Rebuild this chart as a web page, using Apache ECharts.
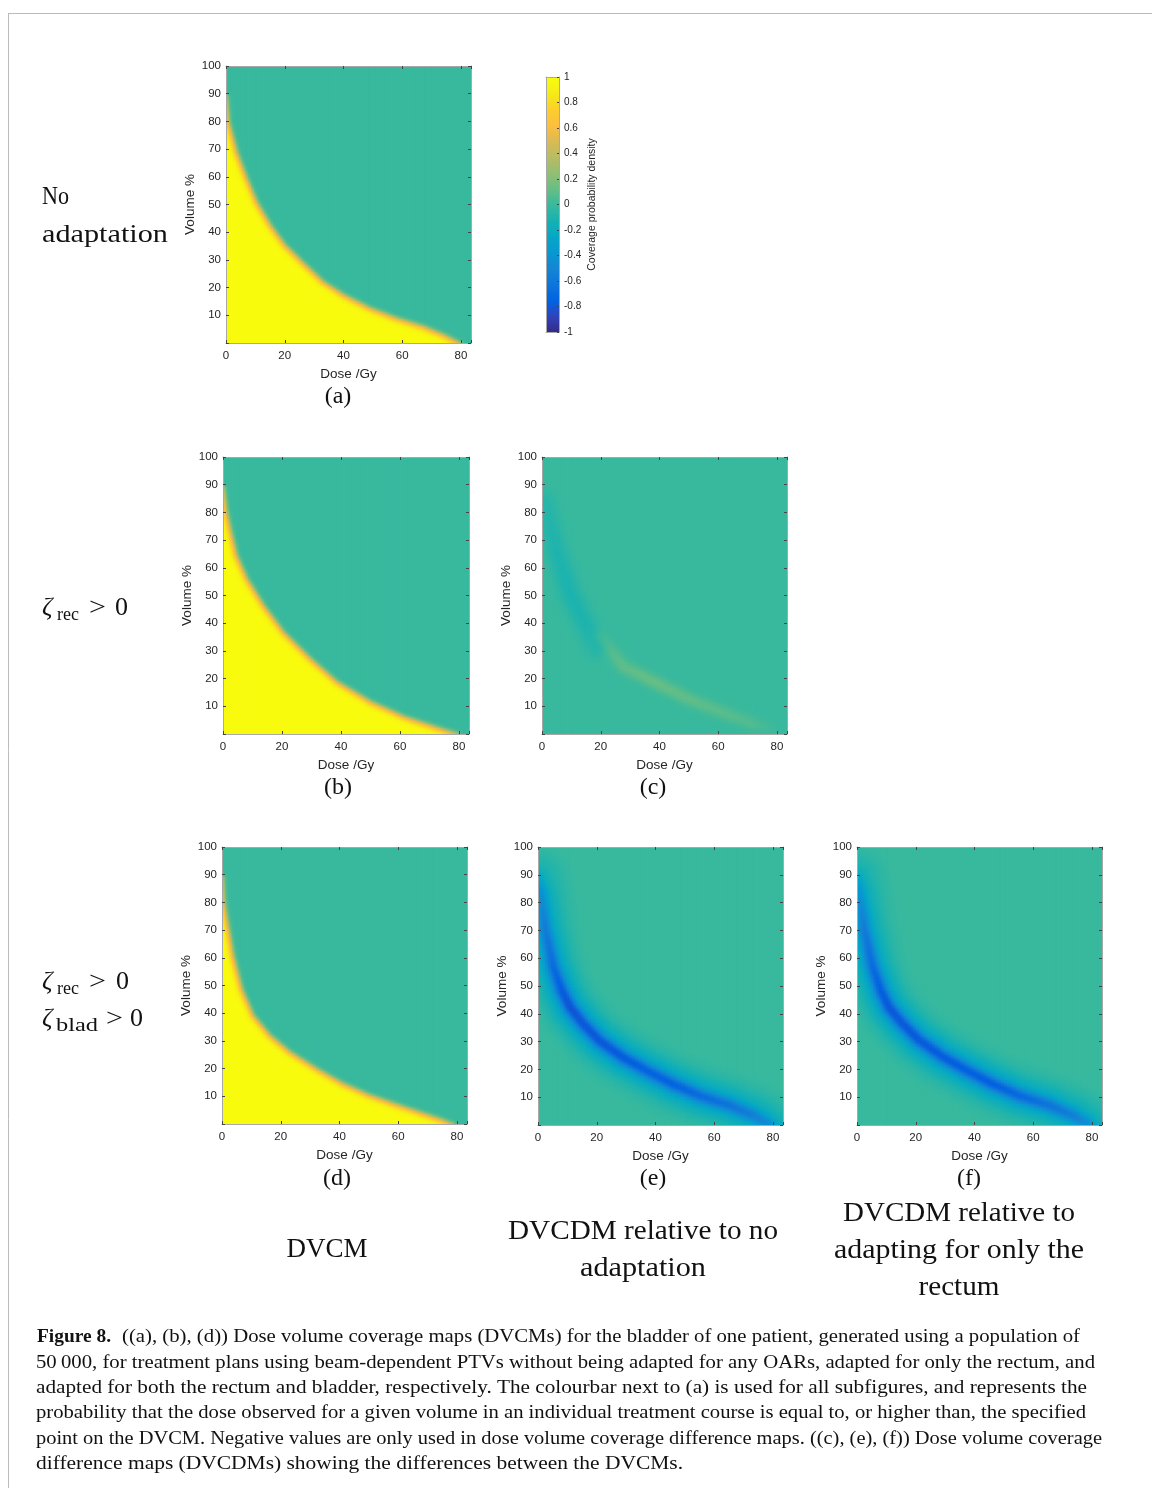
<!DOCTYPE html>
<html><head><meta charset="utf-8">
<script src="https://cdn.jsdelivr.net/npm/echarts@6.0.0/dist/echarts.min.js"></script>
<style>html,body{margin:0;padding:0;background:#fff}#c{width:1152px;height:1488px}</style>
</head><body><div id="c"></div>
<script>
// ================= DATA =================
const doseTicks = [0, 20, 40, 60, 80];
const volumeTicks = [10, 20, 30, 40, 50, 60, 70, 80, 90, 100];
const colorbarTicks = [-1, -0.8, -0.6, -0.4, -0.2, 0, 0.2, 0.4, 0.6, 0.8, 1];
const DOSE_MAX = 83.4;
const VOL_MAX = 100;

// DVCM 50%-coverage curves (dose Gy -> volume %)
const noAdaptDose = [0, 0.8, 3.6, 7, 10.4, 15, 20, 26.3, 33, 40, 49, 58, 67, 74, 79.7];
const noAdaptVol  = [89, 80, 69, 59.5, 51, 42.7, 35.5, 29, 22.3, 17.5, 12.7, 9.1, 6.1, 3.1, 0];
const rectumDose  = [0, 1.1, 2.3, 4.5, 8, 13.6, 20.4, 29.5, 38.6, 50, 61.3, 71.5, 79.5];
const rectumVol   = [89, 80.4, 74.4, 64.7, 56.3, 46.7, 37, 27.4, 19, 11.8, 6.4, 2.8, 0];
const bothDose    = [0, 0.6, 1.5, 3.7, 6.6, 10.5, 16.2, 23, 32, 41, 50, 61.5, 68.3, 75, 78.5];
const bothVol     = [89, 80, 74.4, 61, 49, 39.5, 32.2, 26.2, 20.2, 14.8, 10.6, 6.4, 4, 1.6, 0];
// spread of the coverage transition (screen px) below / above the curve
const dvcmSpreadBelow = 3.6;
const dvcmSpreadAbove = 2.6;

// (e) DVCDM relative to no adaptation: negative ridge
const diffNoAdaptDose = [0, 0.8, 2.5, 5.3, 8.2, 11, 15.5, 21, 29, 37, 46, 55, 65.5, 73.4, 78.5, 80];
const diffNoAdaptVol  = [89, 84.4, 71, 57, 48.6, 42.6, 36.6, 30.6, 24.6, 19.9, 15, 10.9, 7.3, 3.7, 0.7, 0];
const diffNoAdaptPeak = [-0.2, -0.35, -0.5, -0.62, -0.72, -0.76, -0.74, -0.74, -0.72, -0.68, -0.68, -0.62, -0.56, -0.48, -0.38, -0.28];
const diffNoAdaptHalo = -0.06;
// (f) DVCDM relative to adapting for the rectum only
const diffRectumDose = [0, 0.8, 2.5, 5.3, 8.2, 11, 15.5, 21, 29, 37, 46, 55, 65.5, 73.4, 78.5, 80];
const diffRectumVol  = [89, 84, 71, 57.5, 48.5, 42.5, 36.8, 31, 25, 20.2, 15.2, 11, 7.4, 3.8, 0.8, 0];
const diffRectumPeak = [-0.2, -0.33, -0.5, -0.62, -0.7, -0.74, -0.73, -0.73, -0.72, -0.7, -0.7, -0.64, -0.56, -0.48, -0.38, -0.28];
const diffRectumHalo = -0.06;
// (c) DVCDM rectum-adapted vs no adaptation: weak negative and positive ridges
const diffRecNegDose = [1.1, 5, 9.6, 15.3, 18.7];
const diffRecNegVol  = [84, 66.5, 51, 39, 31.8];
const diffRecNegPeak = [-0.06, -0.09, -0.1, -0.09, -0.07];
const diffRecPosDose = [20, 27.8, 39, 50.5, 62, 71, 76.6];
const diffRecPosVol  = [35.4, 24.6, 18.7, 12.7, 7.9, 4.3, 2.5];
const diffRecPosPeak = [0.05, 0.11, 0.13, 0.11, 0.09, 0.07, 0.03];

// parula colour map (17 samples)
const parula = ['#352a87', '#3243ba', '#0363e1', '#0d75dc', '#1485d4', '#0998d1', '#06a7c6', '#15b1b4', '#38b99e',
                '#65be86', '#92bf73', '#b7bd64', '#d9ba56', '#fdbe3d', '#fcce2e', '#f5eb18', '#f9fb0e'];

// ================= LAYOUT =================
const panels = [
  {left: 226, top: 66,  width: 245, height: 277},
  {left: 223, top: 457, width: 246, height: 277},
  {left: 542, top: 457, width: 245, height: 277},
  {left: 222, top: 847, width: 245, height: 277},
  {left: 538, top: 847, width: 245, height: 278},
  {left: 857, top: 847, width: 245, height: 278}
];
const cbar = {left: 546, top: 77, width: 13, height: 255};

// ================= FIELD CONSTRUCTION =================
const PX_X = 245 / DOSE_MAX, PX_Y = 277 / VOL_MAX;
function toPx(ds, vs) { return ds.map((d, i) => [d * PX_X, vs[i] * PX_Y]); }
function nearest(pts, px, py) {
  let best = Infinity, bt = 0;
  for (let i = 0; i < pts.length - 1; i++) {
    const ax = pts[i][0], ay = pts[i][1], bx = pts[i + 1][0], by = pts[i + 1][1];
    const dx = bx - ax, dy = by - ay, L = dx * dx + dy * dy;
    let u = L ? ((px - ax) * dx + (py - ay) * dy) / L : 0;
    u = Math.max(0, Math.min(1, u));
    const qx = ax + u * dx - px, qy = ay + u * dy - py, d2 = qx * qx + qy * qy;
    if (d2 < best) { best = d2; bt = i + u; }
  }
  return {dist: Math.sqrt(best), t: bt};
}
function atT(arr, t) { const i = Math.min(Math.floor(t), arr.length - 2); const f = t - i; return arr[i] * (1 - f) + arr[i + 1] * f; }
function curveAt(ds, vs, d) {
  if (d <= ds[0]) return vs[0];
  if (d >= ds[ds.length - 1]) return vs[vs.length - 1];
  for (let i = 0; i < ds.length - 1; i++) if (d <= ds[i + 1]) { const f = (d - ds[i]) / (ds[i + 1] - ds[i]); return vs[i] * (1 - f) + vs[i + 1] * f; }
  return 0;
}
function erf(x) { const s = Math.sign(x); x = Math.abs(x); const t = 1 / (1 + 0.3275911 * x);
  const y = 1 - (((((1.061405429 * t - 1.453152027) * t) + 1.421413741) * t - 0.284496736) * t + 0.254829592) * t * Math.exp(-x * x); return s * y; }
function Phi(z) { return 0.5 * (1 + erf(z / Math.SQRT2)); }

function dvcmField(ds, vs) {
  const pts = toPx(ds, vs);
  return (d, v) => {
    const n = nearest(pts, d * PX_X, v * PX_Y);
    const above = v > curveAt(ds, vs, d) || d > ds[ds.length - 1];
    const s = above ? n.dist : -n.dist;
    return 1 - Phi(s / (s > 0 ? dvcmSpreadAbove : dvcmSpreadBelow));
  };
}
function ridge(ds, vs, peak, core, wide, halo) {
  const pts = toPx(ds, vs);
  return (d, v) => {
    const n = nearest(pts, d * PX_X, v * PX_Y);
    const a = atT(peak, n.t), q = n.dist;
    let val = wide ? a * (0.6 * Math.exp(-q * q / (2 * core * core)) + 0.4 * Math.exp(-q * q / (2 * wide * wide)))
                   : a * Math.exp(-q * q / (2 * core * core));
    if (halo) val += halo * Math.exp(-Math.pow(q / 28, 4));
    return val;
  };
}
function buildCells(fn) {
  const out = [], step = 0.5;
  for (let x0 = 0; x0 < DOSE_MAX - 1e-9; x0 += step) {
    const w = Math.min(step, DOSE_MAX - x0), xc = x0 + w / 2;
    let runStart = 0, runVal = null;
    for (let j = 0; j < VOL_MAX / step; j++) {
      const y0 = j * step;
      let v = Math.round(fn(xc, y0 + step / 2) * 200) / 200;
      v = Math.max(-1, Math.min(1, v));
      if (runVal === null) { runVal = v; runStart = y0; }
      else if (v !== runVal) { out.push([x0, runStart, runVal, w, y0 - runStart]); runVal = v; runStart = y0; }
    }
    out.push([x0, runStart, runVal, w, VOL_MAX - runStart]);
  }
  return out;
}
const fieldA = dvcmField(noAdaptDose, noAdaptVol);
const fieldB = dvcmField(rectumDose, rectumVol);
const fieldD = dvcmField(bothDose, bothVol);
const negC = ridge(diffRecNegDose, diffRecNegVol, diffRecNegPeak, 7.5, 0, 0);
const posC = ridge(diffRecPosDose, diffRecPosVol, diffRecPosPeak, 5, 0, 0);
const fieldC = (d, v) => negC(d, v) + posC(d, v);
const fieldE = ridge(diffNoAdaptDose, diffNoAdaptVol, diffNoAdaptPeak, 4.8, 11, diffNoAdaptHalo);
const fieldF = ridge(diffRectumDose, diffRectumVol, diffRectumPeak, 4.8, 11, diffRectumHalo);
const panelData = [fieldA, fieldB, fieldC, fieldD, fieldE, fieldF].map(buildCells);
const cbarData = [];
for (let k = 0; k < 200; k++) { const y0 = -1 + k * 0.01; cbarData.push([0, y0, y0 + 0.005, 1, 0.01]); }

// ================= CHART =================
const AX_FONT = 'Liberation Sans';
const grids = [], xAxes = [], yAxes = [], series = [];
function renderCell(params, api) {
  const x0 = api.value(0), y0 = api.value(1), w = api.value(3), h = api.value(4);
  const p1 = api.coord([x0, y0 + h]), p2 = api.coord([x0 + w, y0]);
  return {type: 'rect', shape: {x: p1[0], y: p1[1], width: p2[0] - p1[0] + 1, height: p2[1] - p1[1] + 1},
          style: {fill: api.visual('color')}, silent: true};
}
const lineStyle = {color: '#a8a8a8', width: 1};
const tickStyle = {color: '#444', width: 1};
function cellSeries(idx, data) {
  return {type: 'custom', xAxisIndex: idx, yAxisIndex: idx, clip: true, silent: true, animation: false,
    progressive: 0, progressiveThreshold: 1e9, large: false,
    dimensions: ['x', 'y', 'v', 'w', 'h'], encode: {x: 0, y: 1}, renderItem: renderCell, data: data};
}
panels.forEach((p, g) => {
  grids.push({left: p.left, top: p.top, width: p.width, height: p.height, containLabel: false});
  const xBase = {gridIndex: g, type: 'value', min: 0, max: DOSE_MAX, interval: 20, z: 10,
    axisLine: {show: true, onZero: false, lineStyle}, axisTick: {show: true, inside: true, length: 3, lineStyle: tickStyle},
    splitLine: {show: false}};
  const yBase = {gridIndex: g, type: 'value', min: 0, max: VOL_MAX, interval: 10, z: 10,
    axisLine: {show: true, onZero: false, lineStyle}, axisTick: {show: true, inside: true, length: 3, lineStyle: tickStyle},
    splitLine: {show: false}};
  xAxes.push(Object.assign({}, xBase, {position: 'bottom',
    axisLabel: {show: true, margin: 7, color: '#262626', fontSize: 11.5, fontFamily: AX_FONT,
      formatter: v => doseTicks.includes(v) ? String(v) : ''},
    name: 'Dose /Gy', nameLocation: 'middle', nameGap: 24,
    nameTextStyle: {color: '#262626', fontSize: 13.5, fontFamily: AX_FONT}}));
  xAxes.push(Object.assign({}, xBase, {position: 'top', axisLabel: {show: false}}));
  yAxes.push(Object.assign({}, yBase, {position: 'left',
    axisLabel: {show: true, margin: 5, color: '#262626', fontSize: 11.5, fontFamily: AX_FONT,
      formatter: v => volumeTicks.includes(v) ? String(v) : ''},
    name: 'Volume %', nameLocation: 'middle', nameGap: 29,
    nameTextStyle: {color: '#262626', fontSize: 13.5, fontFamily: AX_FONT}}));
  yAxes.push(Object.assign({}, yBase, {position: 'right', axisLabel: {show: false}}));
  series.push(cellSeries(2 * g, panelData[g]));
});
// colorbar
const cg = panels.length;
grids.push({left: cbar.left, top: cbar.top, width: cbar.width, height: cbar.height});
xAxes.push({gridIndex: cg, type: 'value', min: 0, max: 1, position: 'bottom', z: 10, axisLine: {show: true, onZero: false, lineStyle},
  axisTick: {show: false}, axisLabel: {show: false}, splitLine: {show: false}});
xAxes.push({gridIndex: cg, type: 'value', min: 0, max: 1, position: 'top', z: 10, axisLine: {show: true, onZero: false, lineStyle},
  axisTick: {show: false}, axisLabel: {show: false}, splitLine: {show: false}});
yAxes.push({gridIndex: cg, type: 'value', min: -1, max: 1, interval: 0.2, position: 'right', z: 10,
  axisLine: {show: true, onZero: false, lineStyle}, axisTick: {show: true, inside: true, length: 2, lineStyle: tickStyle},
  axisLabel: {show: true, margin: 5, color: '#262626', fontSize: 10, fontFamily: AX_FONT, showMinLabel: true, showMaxLabel: true,
    formatter: v => { const r = Math.round(v * 10) / 10; return colorbarTicks.includes(r) ? String(r) : ''; }},
  splitLine: {show: false},
  name: 'Coverage probability density', nameLocation: 'middle', nameGap: 28,
  nameTextStyle: {color: '#262626', fontSize: 10.5, fontFamily: AX_FONT}});
yAxes.push({gridIndex: cg, type: 'value', min: -1, max: 1, position: 'left', z: 10, axisLine: {show: true, onZero: false, lineStyle},
  axisTick: {show: false}, axisLabel: {show: false}, splitLine: {show: false}});
series.push(cellSeries(2 * cg, cbarData));

// ================= TEXT =================
const mctx = document.createElement('canvas').getContext('2d');
function measure(str, font) { mctx.font = font; return mctx.measureText(str).width; }
function txt(str, font, size, x, baseline, align, targetW) {
  const el = {type: 'text', x: x, y: baseline - 0.33 * size, silent: true, z: 100,
    style: {text: str, font: font, fill: '#111', align: align, textAlign: align, verticalAlign: 'middle', textVerticalAlign: 'middle'}};
  if (targetW) el.scaleX = targetW / measure(str, font);
  return el;
}
const SERIF = '"Liberation Serif"';
const F26 = '26px ' + SERIF, F26I = 'italic 26px ' + SERIF, F18 = '18px ' + SERIF, F24 = '24px ' + SERIF, F27 = '27px ' + SERIF;
const F19 = '19px ' + SERIF, F19B = 'bold 19px ' + SERIF;
const graphics = [
  {type: 'line', shape: {x1: 8, y1: 13.5, x2: 1152, y2: 13.5}, style: {stroke: '#bbbbbb', lineWidth: 1}, silent: true},
  {type: 'line', shape: {x1: 8.5, y1: 13, x2: 8.5, y2: 1488}, style: {stroke: '#bbbbbb', lineWidth: 1}, silent: true},
  // row labels
  txt('No', F26, 26, 42, 206, 'left', 27),
  txt('adaptation', F26, 26, 42, 244, 'left', 126),
  txt('ζ', F26I, 26, 42, 617, 'left'), txt('rec', F18, 18, 57, 621, 'left', 22), txt('>', F26, 26, 89, 617, 'left', 17), txt('0', F26, 26, 115, 617, 'left'),
  txt('ζ', F26I, 26, 42, 991, 'left'), txt('rec', F18, 18, 57, 995, 'left', 22), txt('>', F26, 26, 89, 991, 'left', 17), txt('0', F26, 26, 116, 991, 'left'),
  txt('ζ', F26I, 26, 42, 1028, 'left'), txt('blad', F18, 18, 56, 1032, 'left', 42), txt('>', F26, 26, 106, 1028, 'left', 17), txt('0', F26, 26, 130, 1028, 'left'),
  // sub-figure letters
  txt('(a)', F24, 24, 338, 405, 'center'),
  txt('(b)', F24, 24, 338, 796, 'center'),
  txt('(c)', F24, 24, 653, 796, 'center'),
  txt('(d)', F24, 24, 337, 1187, 'center'),
  txt('(e)', F24, 24, 653, 1187, 'center'),
  txt('(f)', F24, 24, 969, 1187, 'center'),
  // column captions
  txt('DVCM', F27, 27, 327, 1259, 'center', 81),
  txt('DVCDM relative to no', F27, 27, 643, 1241, 'center', 270),
  txt('adaptation', F27, 27, 643, 1278, 'center', 126),
  txt('DVCDM relative to', F27, 27, 959, 1223, 'center', 232),
  txt('adapting for only the', F27, 27, 959, 1260, 'center', 250),
  txt('rectum', F27, 27, 959, 1297, 'center', 81),
  // figure caption
  txt('Figure 8.', F19B, 19, 37, 1343, 'left', 74),
  txt('((a), (b), (d)) Dose volume coverage maps (DVCMs) for the bladder of one patient, generated using a population of', F19, 19, 122, 1343, 'left', 958),
  txt('50\u2009000, for treatment plans using beam-dependent PTVs without being adapted for any OARs, adapted for only the rectum, and', F19, 19, 36, 1369, 'left', 1059),
  txt('adapted for both the rectum and bladder, respectively. The colourbar next to (a) is used for all subfigures, and represents the', F19, 19, 36, 1394, 'left', 1051),
  txt('probability that the dose observed for a given volume in an individual treatment course is equal to, or higher than, the specified', F19, 19, 36, 1419, 'left', 1050),
  txt('point on the DVCM. Negative values are only used in dose volume coverage difference maps. ((c), (e), (f)) Dose volume coverage', F19, 19, 36, 1445, 'left', 1066),
  txt('difference maps (DVCDMs) showing the differences between the DVCMs.', F19, 19, 36, 1470, 'left', 647)
];

const chart = echarts.init(document.getElementById('c'), null, {renderer: 'canvas', width: 1152, height: 1488});
chart.setOption({
  backgroundColor: '#ffffff',
  animation: false,
  grid: grids, xAxis: xAxes, yAxis: yAxes,
  visualMap: {show: false, type: 'continuous', min: -1, max: 1, dimension: 2,
    seriesIndex: series.map((s, i) => i), inRange: {color: parula}},
  series: series,
  graphic: {elements: graphics}
});
</script></body></html>
